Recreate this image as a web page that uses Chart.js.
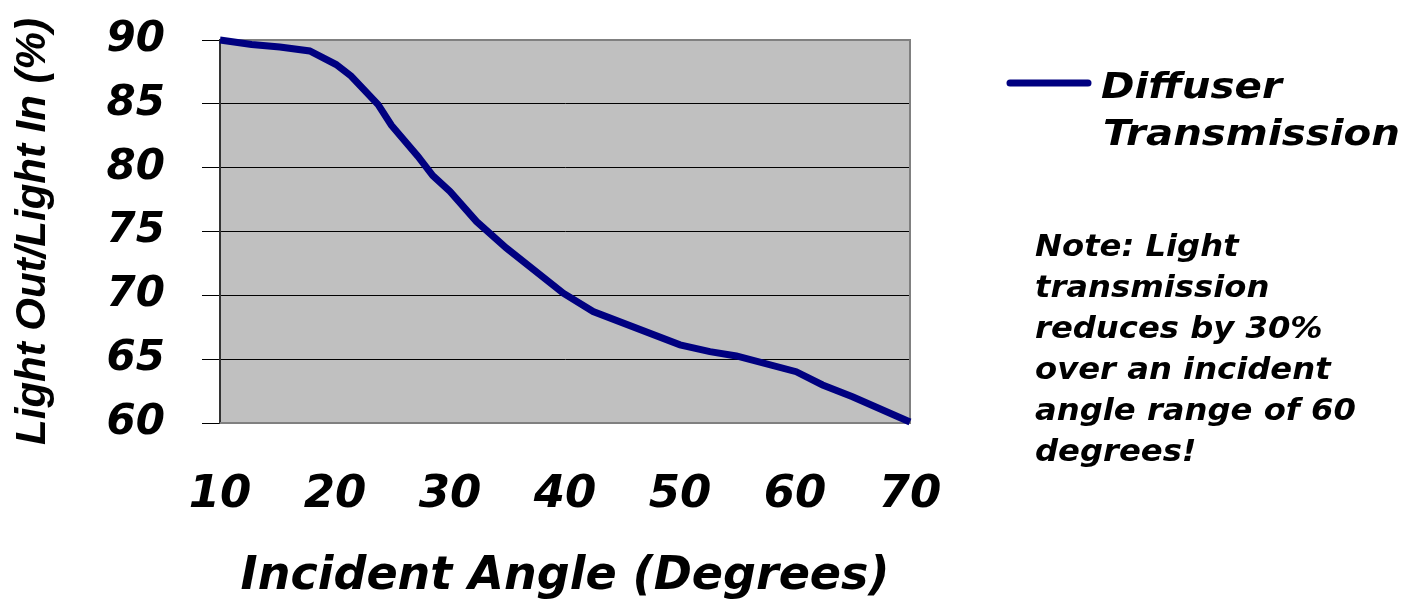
<!DOCTYPE html>
<html>
<head>
<meta charset="utf-8">
<script src="https://cdn.jsdelivr.net/npm/chart.js@4.4.0/dist/chart.umd.min.js"></script>
<style>
  html, body { margin: 0; padding: 0; background: #fff; }
</style>
</head>
<body>
<canvas id="grafico" width="1423" height="600"></canvas>
<script>
// datos: angulo (grados) y transmision (%)
const angulos = [10, 12.75, 15.2, 17.8, 20.1, 21.4, 23.75, 24.9, 27.2, 28.5, 30, 32.3, 34.9, 39.85, 42.45, 50, 52.6, 54.9, 60.1, 62.4, 65, 70];
const transmision = [90.0, 89.65, 89.45, 89.14, 88.08, 87.18, 84.94, 83.33, 80.9, 79.37, 78.14, 75.79, 73.7, 70.17, 68.73, 66.12, 65.59, 65.25, 64.02, 62.98, 62.06, 60.08];
const ticksX = [10, 20, 30, 40, 50, 60, 70];
const ticksY = [60, 65, 70, 75, 80, 85, 90];
const serie = ['Diffuser', 'Transmission'];
const nota = ['Note: Light', 'transmission', 'reduces by 30%', 'over an incident', 'angle range of 60', 'degrees!'];

const azul = '#000080';
const fuenteNegrita = 'DejaVu Sans';

// texto estirado a lo ancho, como en el original
function texto(ctx, s, x, y, escala) {
    ctx.save();
    ctx.translate(x, y);
    ctx.scale(escala, 1);
    ctx.fillText(s, 0, 0);
    ctx.restore();
}

const fondo = {
    id: 'fondo',
    beforeDraw(chart) {
        const { ctx, chartArea: a } = chart;
        ctx.save();
        ctx.fillStyle = '#ffffff';
        ctx.fillRect(0, 0, chart.width, chart.height);
        ctx.fillStyle = '#c0c0c0';
        ctx.fillRect(a.left, a.top, a.right - a.left, a.bottom - a.top);
        ctx.restore();
    },
    beforeDatasetsDraw(chart) {
        // marco gris arriba, derecha y abajo
        const { ctx, chartArea: a } = chart;
        ctx.save();
        ctx.strokeStyle = '#808080';
        ctx.lineWidth = 2;
        ctx.beginPath();
        ctx.moveTo(a.left, a.top);
        ctx.lineTo(a.right, a.top);
        ctx.lineTo(a.right, a.bottom);
        ctx.lineTo(a.left, a.bottom);
        ctx.stroke();
        ctx.restore();
    },
    afterDraw(chart) {
        const { ctx, chartArea: a } = chart;
        const ds = chart.data.datasets[0];
        ctx.save();
        // leyenda
        ctx.strokeStyle = ds.borderColor;
        ctx.lineWidth = 7;
        ctx.lineCap = 'round';
        ctx.beginPath();
        ctx.moveTo(a.right + 100, 83);
        ctx.lineTo(a.right + 178, 83);
        ctx.stroke();
        ctx.fillStyle = '#000';
        ctx.textBaseline = 'alphabetic';
        ctx.font = 'italic bold 36px "' + fuenteNegrita + '"';
        texto(ctx, serie[0], a.right + 191, 98, 1.12);
        texto(ctx, serie[1], a.right + 193, 145, 1.12);
        // nota
        ctx.font = 'italic bold 31px "' + fuenteNegrita + '"';
        nota.forEach((linea, i) => texto(ctx, linea, a.right + 125, 256 + i * 41, 1.04));
        ctx.restore();
    }
};

const fuenteTicks = (size) => ({ family: fuenteNegrita, size: size, weight: 'bold', style: 'italic' });

new Chart(document.getElementById('grafico'), {
    type: 'line',
    data: {
        datasets: [{
            label: serie.join(' '),
            data: angulos.map((a, i) => ({ x: a, y: transmision[i] })),
            borderColor: azul,
            borderWidth: 7,
            pointRadius: 0,
            tension: 0,
            fill: false,
            clip: false
        }]
    },
    options: {
        responsive: false,
        animation: false,
        layout: { padding: { top: 40, right: 513, bottom: 0, left: 0 } },
        plugins: {
            legend: { display: false },
            tooltip: { enabled: false }
        },
        scales: {
            x: {
                type: 'linear',
                min: 10,
                max: 70,
                afterFit(s) { s.height = 177; s.paddingLeft = 0; s.paddingRight = 0; },
                afterBuildTicks(s) { s.ticks = ticksX.map(v => ({ value: v })); },
                grid: { display: false, drawTicks: false },
                border: { display: false },
                ticks: { padding: 45, maxRotation: 0, autoSkip: false, color: '#000', font: fuenteTicks(45) },
                title: {
                    display: true,
                    text: 'Incident Angle (Degrees)',
                    color: '#000',
                    padding: { top: 0, bottom: 0 },
                    font: { family: fuenteNegrita, size: 46, weight: 'bold', style: 'italic', lineHeight: 1 }
                }
            },
            y: {
                min: 60,
                max: 90,
                afterFit(s) { s.width = 220; s.paddingTop = 0; s.paddingBottom = 0; },
                afterBuildTicks(s) { s.ticks = ticksY.map(v => ({ value: v })); },
                grid: { color: '#000', lineWidth: 1, tickLength: 18, drawTicks: true },
                border: { color: '#333', width: 2 },
                ticks: { padding: 37, color: '#000', font: fuenteTicks(42) },
                title: {
                    display: true,
                    text: 'Light Out/Light In (%)',
                    color: '#000',
                    padding: { top: 12, bottom: 0 },
                    font: { family: 'Liberation Sans', size: 42, weight: 'bold', style: 'italic', lineHeight: 1 }
                }
            }
        }
    },
    plugins: [fondo]
});
</script>
</body>
</html>
